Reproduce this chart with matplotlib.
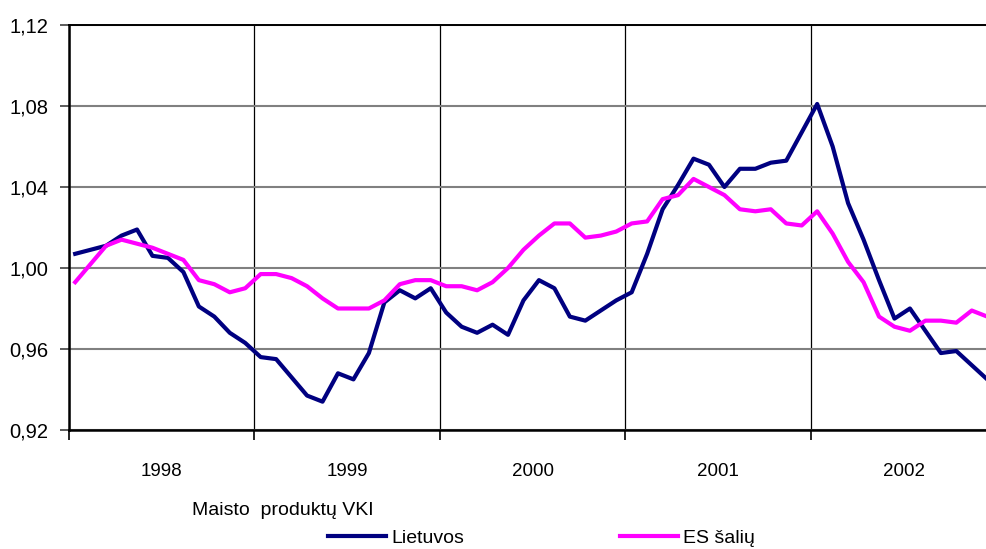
import matplotlib
matplotlib.use('Agg')
import matplotlib.pyplot as plt
import numpy as np

years = ['1998', '1999', '2000', '2001', '2002']

# monthly food CPI, Jan 1998 - Dec 2002
lietuvos = [
    1.007, 1.009, 1.011, 1.016, 1.019, 1.006, 1.005, 0.998, 0.981, 0.976, 0.968, 0.963,
    0.956, 0.955, 0.946, 0.937, 0.934, 0.948, 0.945, 0.958, 0.983, 0.989, 0.985, 0.990,
    0.978, 0.971, 0.968, 0.972, 0.967, 0.984, 0.994, 0.990, 0.976, 0.974, 0.979, 0.984,
    0.988, 1.007, 1.029, 1.041, 1.054, 1.051, 1.040, 1.049, 1.049, 1.052, 1.053, 1.067,
    1.081, 1.060, 1.032, 1.014, 0.994, 0.975, 0.980, 0.969, 0.958, 0.959, 0.952, 0.945,
]
es_saliu = [
    0.993, 1.002, 1.011, 1.014, 1.012, 1.010, 1.007, 1.004, 0.994, 0.992, 0.988, 0.990,
    0.997, 0.997, 0.995, 0.991, 0.985, 0.980, 0.980, 0.980, 0.984, 0.992, 0.994, 0.994,
    0.991, 0.991, 0.989, 0.993, 1.000, 1.009, 1.016, 1.022, 1.022, 1.015, 1.016, 1.018,
    1.022, 1.023, 1.034, 1.036, 1.044, 1.040, 1.036, 1.029, 1.028, 1.029, 1.022, 1.021,
    1.028, 1.017, 1.003, 0.993, 0.976, 0.971, 0.969, 0.974, 0.974, 0.973, 0.979, 0.976,
]

plt.rcParams['font.family'] = ['Liberation Sans', 'DejaVu Sans']

fig = plt.figure(figsize=(9.87, 5.49), dpi=100)
# plot area runs past the right edge of the picture, as in the original
ax = fig.add_axes([69 / 987, 1 - 430 / 549, 927.5 / 987, 405 / 549])

x = np.arange(len(lietuvos)) + 0.4
ax.plot(x, lietuvos, color='#000080', lw=3, label='Lietuvos')
ax.plot(x, es_saliu, color='#ff00ff', lw=3, label='ES šalių')

ax.set_xlim(0, 60)
ax.set_ylim(0.92, 1.12)

yt = np.arange(0.92, 1.121, 0.04)
ax.set_yticks(yt)
ax.set_yticklabels([f'{v:.2f}'.replace('.', ',') for v in yt], fontsize=14.5)
ax.yaxis.grid(True, color='#808080', lw=1.5)

ax.set_xticks(np.arange(0, 60, 12))
ax.set_xticklabels([])
ax.set_xticks(np.arange(6, 60, 12), minor=True)
ax.set_xticklabels(years, minor=True, fontsize=13.5)
ax.xaxis.grid(True, which='major', color='black', lw=0.9)
ax.set_axisbelow(True)

ax.tick_params(axis='x', which='major', length=7, width=1.2, direction='out')
ax.tick_params(axis='x', which='minor', length=0, pad=24)
ax.tick_params(axis='y', length=6.5, width=1.2, color='#404040', pad=8.5)

for side in ['left', 'bottom']:
    ax.spines[side].set_linewidth(1.8)
ax.spines['top'].set_linewidth(1.4)
ax.spines['right'].set_visible(False)

fig.text(192 / 987, 1 - 515 / 549, 'Maisto  produktų VKI', fontsize=14,
         va='baseline', ha='left')

ax.legend(loc='center left', bbox_to_anchor=(328 / 987, 1 - 538 / 549),
          bbox_transform=fig.transFigure, ncol=2, frameon=False,
          fontsize=14, handlelength=3.0, handletextpad=0.26,
          columnspacing=8.0, borderpad=0, borderaxespad=0)

fig.savefig('out.png', dpi=100)
